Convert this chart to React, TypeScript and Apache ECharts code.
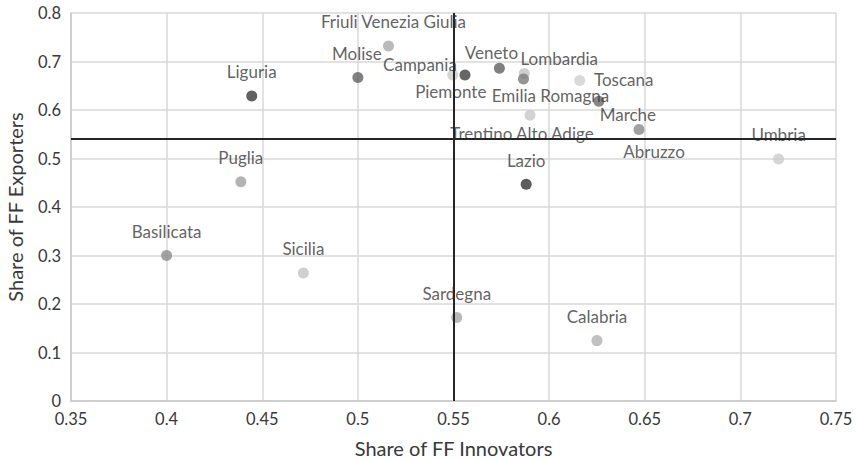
import React, { useEffect, useRef } from "react";
import * as echarts from "echarts";

const regions = [
  "Friuli Venezia Giulia", "Molise", "Campania", "Piemonte", "Veneto", "Lombardia",
  "Emilia Romagna", "Toscana", "Marche", "Abruzzo", "Trentino Alto Adige", "Umbria",
  "Liguria", "Puglia", "Basilicata", "Sicilia", "Sardegna", "Calabria", "Lazio",
];
const innovators = [
  0.516, 0.5, 0.556, 0.5496, 0.574, 0.587,
  0.5866, 0.616, 0.626, 0.647, 0.59, 0.72,
  0.4445, 0.4388, 0.4, 0.4715, 0.5517, 0.625, 0.588,
];
const exporters = [
  0.732, 0.667, 0.672, 0.672, 0.686, 0.675,
  0.664, 0.661, 0.618, 0.56, 0.589, 0.499,
  0.629, 0.452, 0.3, 0.264, 0.172, 0.1245, 0.447,
];
const innovatorThreshold = 0.553;
const exporterThreshold = 0.535;

// styles (kept apart from data)
const pointColors = [
  "#a9a9a9", "#606060", "#404040", "#cbcbcb", "#606060", "#c2c2c2",
  "#7a7a7a", "#d0d0d0", "#696969", "#8a8a8a", "#c8c8c8", "#cccccc",
  "#3a3a3a", "#a0a0a0", "#8c8c8c", "#c4c4c4", "#a8a8a8", "#b0b0b0", "#333333",
];
const labelOffsets: Record<string, [number, number]> = {
  "Friuli Venezia Giulia": [5, -24],
  Molise: [-1, -24],
  Campania: [-45, -11],
  Piemonte: [-2, 16],
  Veneto: [-8, -16],
  Lombardia: [35, -15],
  "Emilia Romagna": [27, 17],
  Toscana: [44, -1],
  Marche: [29, 13],
  Abruzzo: [15, 22],
  "Trentino Alto Adige": [-8, 18],
};
const defaultOffset: [number, number] = [0, -24];

const FONT = "Lato, sans-serif";

export default function App() {
  const ref = useRef<HTMLDivElement>(null);
  useEffect(() => {
    if (!ref.current) return;
    const chart = echarts.init(ref.current, null, { renderer: "svg" });
    const data = regions.map((name, i) => ({
      name,
      value: [innovators[i], exporters[i]],
      itemStyle: { color: pointColors[i] },
      label: {
        show: true,
        position: "inside",
        offset: labelOffsets[name] || defaultOffset,
        formatter: name,
        color: "#383838",
        fontSize: 17,
        lineHeight: 16,
        fontFamily: FONT,
      },
    }));
    chart.setOption({
      animation: false,
      backgroundColor: "#ffffff",
      grid: {
        left: 71,
        right: 23,
        top: 13,
        bottom: 59,
        containLabel: false,
        outerBoundsMode: "none",
      },
      xAxis: {
        type: "value",
        min: 0.35,
        max: 0.75,
        interval: 0.05,
        name: "Share of FF Innovators",
        nameLocation: "middle",
        nameGap: 37,
        nameTextStyle: { color: "#383838", fontSize: 20, fontFamily: FONT },
        axisLine: { show: true, lineStyle: { color: "#c8c8c8", width: 1.5 } },
        axisTick: { show: false },
        axisLabel: { color: "#383838", fontSize: 16.5, fontFamily: FONT, margin: 9 },
        splitLine: { show: true, lineStyle: { color: "#d9d9d9", width: 1.5 } },
      },
      yAxis: {
        type: "value",
        min: 0,
        max: 0.8,
        interval: 0.1,
        name: "Share of FF Exporters",
        nameLocation: "middle",
        nameGap: 46,
        nameTextStyle: { color: "#383838", fontSize: 20, fontFamily: FONT },
        axisLine: { show: true, lineStyle: { color: "#c8c8c8", width: 1.5 } },
        axisTick: { show: false },
        axisLabel: { color: "#383838", fontSize: 16.5, fontFamily: FONT, margin: 10 },
        splitLine: { show: true, lineStyle: { color: "#d9d9d9", width: 1.5 } },
      },
      series: [
        {
          type: "scatter",
          symbolSize: 11,
          data,
          z: 2,
        },
        {
          type: "scatter",
          data: [],
          z: 5,
          markLine: {
            silent: true,
            symbol: "none",
            label: { show: false },
            lineStyle: { color: "#262626", width: 2, type: "solid" },
            data: [{ xAxis: innovatorThreshold }, { yAxis: exporterThreshold }],
          },
        },
      ],
    });
    return () => chart.dispose();
  }, []);
  return (
    <div
      ref={ref}
      style={{ position: "absolute", left: 0, top: 0, width: 859, height: 460 }}
    />
  );
}
